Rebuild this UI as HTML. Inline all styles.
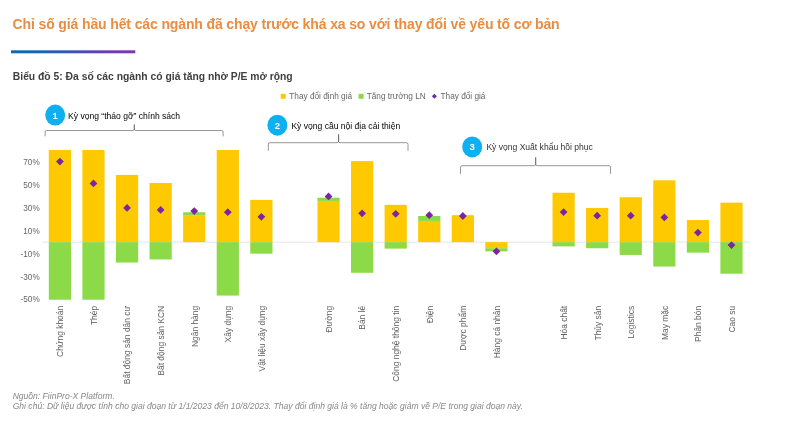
<!DOCTYPE html>
<html lang="vi">
<head>
<meta charset="utf-8">
<title>Biểu đồ 5</title>
<style>
html,body{margin:0;padding:0;background:#fff;}
body{width:787px;height:447px;overflow:hidden;position:relative;font-family:"Liberation Sans",sans-serif;}
#wrap{position:absolute;left:0;top:0;width:787px;height:447px;overflow:hidden;background:#fff;}
#inner{position:absolute;left:0;top:0;width:787px;height:447px;filter:blur(0.55px);}
h1{position:absolute;left:12.6px;top:14.4px;margin:0;font-size:14px;line-height:20px;font-weight:bold;color:#E98D42;white-space:nowrap;letter-spacing:-0.127px;}
h2{position:absolute;left:12.8px;top:69.8px;margin:0;font-size:10.33px;line-height:14px;font-weight:bold;color:#404040;white-space:nowrap;}
svg{position:absolute;left:0;top:0;}
svg text{font-family:"Liberation Sans",sans-serif;}
.ax{font-size:8.2px;fill:#666;}
.xl{font-size:8.45px;fill:#606060;}
.lg{font-size:8.25px;fill:#666;}
.an{font-size:8.55px;}
.num{font-size:9.5px;fill:#fff;font-weight:bold;}
.foot{position:absolute;left:12.7px;margin:0;font-size:8.55px;line-height:11px;font-style:italic;color:#888;white-space:nowrap;}
</style>
</head>
<body>
<div id="wrap"><div id="inner">
<h1>Chỉ số giá hầu hết các ngành đã chạy trước khá xa so với thay đổi về yếu tố cơ bản</h1>
<h2>Biểu đồ 5: Đa số các ngành có giá tăng nhờ P/E mở rộng</h2>
<svg width="787" height="447" viewBox="0 0 787 447">
<defs><linearGradient id="rg" x1="0" y1="0" x2="1" y2="0"><stop offset="0" stop-color="#0F69AC"/><stop offset="0.4" stop-color="#2C5FAE"/><stop offset="0.75" stop-color="#6841AE"/><stop offset="1" stop-color="#8236AC"/></linearGradient></defs>
<rect x="11" y="50.3" width="124.3" height="3.0" fill="url(#rg)"/>
<line x1="42" y1="242.15" x2="750" y2="242.15" stroke="#dedede" stroke-width="0.8"/>
<rect x="48.80" y="150.03" width="22.20" height="92.12" fill="#FFC900"/>
<rect x="48.80" y="242.15" width="22.20" height="57.58" fill="#8CDA47"/>
<rect x="82.38" y="150.03" width="22.20" height="92.12" fill="#FFC900"/>
<rect x="82.38" y="242.15" width="22.20" height="57.58" fill="#8CDA47"/>
<rect x="115.96" y="174.90" width="22.20" height="67.25" fill="#FFC900"/>
<rect x="115.96" y="242.15" width="22.20" height="20.38" fill="#8CDA47"/>
<rect x="149.54" y="182.96" width="22.20" height="59.19" fill="#FFC900"/>
<rect x="149.54" y="242.15" width="22.20" height="17.27" fill="#8CDA47"/>
<rect x="183.12" y="215.67" width="22.20" height="26.48" fill="#FFC900"/>
<rect x="183.12" y="212.21" width="22.20" height="3.45" fill="#8CDA47"/>
<rect x="216.70" y="150.03" width="22.20" height="92.12" fill="#FFC900"/>
<rect x="216.70" y="242.15" width="22.20" height="53.43" fill="#8CDA47"/>
<rect x="250.28" y="199.89" width="22.20" height="42.26" fill="#FFC900"/>
<rect x="250.28" y="242.15" width="22.20" height="11.52" fill="#8CDA47"/>
<rect x="317.44" y="200.93" width="22.20" height="41.22" fill="#FFC900"/>
<rect x="317.44" y="197.70" width="22.20" height="3.22" fill="#8CDA47"/>
<rect x="351.02" y="161.08" width="22.20" height="81.07" fill="#FFC900"/>
<rect x="351.02" y="242.15" width="22.20" height="30.63" fill="#8CDA47"/>
<rect x="384.60" y="204.84" width="22.20" height="37.31" fill="#FFC900"/>
<rect x="384.60" y="242.15" width="22.20" height="6.45" fill="#8CDA47"/>
<rect x="418.18" y="220.96" width="22.20" height="21.19" fill="#FFC900"/>
<rect x="418.18" y="216.01" width="22.20" height="4.95" fill="#8CDA47"/>
<rect x="451.76" y="215.78" width="22.20" height="26.37" fill="#FFC900"/>
<rect x="451.76" y="215.20" width="22.20" height="0.58" fill="#8CDA47"/>
<rect x="485.34" y="242.15" width="22.20" height="6.10" fill="#FFC900"/>
<rect x="485.34" y="248.25" width="22.20" height="3.11" fill="#8CDA47"/>
<rect x="552.50" y="192.75" width="22.20" height="49.40" fill="#FFC900"/>
<rect x="552.50" y="242.15" width="22.20" height="4.26" fill="#8CDA47"/>
<rect x="586.08" y="207.95" width="22.20" height="34.20" fill="#FFC900"/>
<rect x="586.08" y="242.15" width="22.20" height="6.10" fill="#8CDA47"/>
<rect x="619.66" y="197.24" width="22.20" height="44.91" fill="#FFC900"/>
<rect x="619.66" y="242.15" width="22.20" height="12.78" fill="#8CDA47"/>
<rect x="653.24" y="180.31" width="22.20" height="61.84" fill="#FFC900"/>
<rect x="653.24" y="242.15" width="22.20" height="24.41" fill="#8CDA47"/>
<rect x="686.82" y="220.04" width="22.20" height="22.11" fill="#FFC900"/>
<rect x="686.82" y="242.15" width="22.20" height="10.48" fill="#8CDA47"/>
<rect x="720.40" y="202.65" width="22.20" height="39.50" fill="#FFC900"/>
<rect x="720.40" y="242.15" width="22.20" height="31.55" fill="#8CDA47"/>
<path d="M59.90 157.65 L63.80 161.55 L59.90 165.45 L56.00 161.55Z" fill="#7A26A2"/>
<path d="M93.48 179.52 L97.38 183.42 L93.48 187.32 L89.58 183.42Z" fill="#7A26A2"/>
<path d="M127.06 204.05 L130.96 207.95 L127.06 211.85 L123.16 207.95Z" fill="#7A26A2"/>
<path d="M160.64 206.01 L164.54 209.91 L160.64 213.81 L156.74 209.91Z" fill="#7A26A2"/>
<path d="M194.22 207.16 L198.12 211.06 L194.22 214.96 L190.32 211.06Z" fill="#7A26A2"/>
<path d="M227.80 208.31 L231.70 212.21 L227.80 216.11 L223.90 212.21Z" fill="#7A26A2"/>
<path d="M261.38 212.92 L265.28 216.82 L261.38 220.72 L257.48 216.82Z" fill="#7A26A2"/>
<path d="M328.54 192.54 L332.44 196.44 L328.54 200.34 L324.64 196.44Z" fill="#7A26A2"/>
<path d="M362.12 209.46 L366.02 213.36 L362.12 217.26 L358.22 213.36Z" fill="#7A26A2"/>
<path d="M395.70 209.92 L399.60 213.82 L395.70 217.72 L391.80 213.82Z" fill="#7A26A2"/>
<path d="M429.28 211.30 L433.18 215.20 L429.28 219.10 L425.38 215.20Z" fill="#7A26A2"/>
<path d="M462.86 212.11 L466.76 216.01 L462.86 219.91 L458.96 216.01Z" fill="#7A26A2"/>
<path d="M496.44 247.46 L500.34 251.36 L496.44 255.26 L492.54 251.36Z" fill="#7A26A2"/>
<path d="M563.60 208.20 L567.50 212.10 L563.60 216.00 L559.70 212.10Z" fill="#7A26A2"/>
<path d="M597.18 211.77 L601.08 215.67 L597.18 219.57 L593.28 215.67Z" fill="#7A26A2"/>
<path d="M630.76 211.77 L634.66 215.67 L630.76 219.57 L626.86 215.67Z" fill="#7A26A2"/>
<path d="M664.34 213.49 L668.24 217.39 L664.34 221.29 L660.44 217.39Z" fill="#7A26A2"/>
<path d="M697.92 228.69 L701.82 232.59 L697.92 236.49 L694.02 232.59Z" fill="#7A26A2"/>
<path d="M731.50 241.13 L735.40 245.03 L731.50 248.93 L727.60 245.03Z" fill="#7A26A2"/>
<text x="39.7" y="165.05" text-anchor="end" class="ax">70%</text>
<text x="39.7" y="187.94" text-anchor="end" class="ax">50%</text>
<text x="39.7" y="210.84" text-anchor="end" class="ax">30%</text>
<text x="39.7" y="233.73" text-anchor="end" class="ax">10%</text>
<text x="39.7" y="256.63" text-anchor="end" class="ax">-10%</text>
<text x="39.7" y="279.53" text-anchor="end" class="ax">-30%</text>
<text x="39.7" y="302.43" text-anchor="end" class="ax">-50%</text>
<text transform="translate(63.25 305.8) rotate(-90)" text-anchor="end" class="xl">Chứng khoán</text>
<text transform="translate(96.83 305.8) rotate(-90)" text-anchor="end" class="xl">Thép</text>
<text transform="translate(130.41 305.8) rotate(-90)" text-anchor="end" class="xl">Bất động sản dân cư</text>
<text transform="translate(163.99 305.8) rotate(-90)" text-anchor="end" class="xl">Bất động sản KCN</text>
<text transform="translate(197.57 305.8) rotate(-90)" text-anchor="end" class="xl">Ngân hàng</text>
<text transform="translate(231.15 305.8) rotate(-90)" text-anchor="end" class="xl">Xây dựng</text>
<text transform="translate(264.73 305.8) rotate(-90)" text-anchor="end" class="xl">Vật liệu xây dựng</text>
<text transform="translate(331.89 305.8) rotate(-90)" text-anchor="end" class="xl">Đường</text>
<text transform="translate(365.47 305.8) rotate(-90)" text-anchor="end" class="xl">Bán lẻ</text>
<text transform="translate(399.05 305.8) rotate(-90)" text-anchor="end" class="xl">Công nghệ thông tin</text>
<text transform="translate(432.63 305.8) rotate(-90)" text-anchor="end" class="xl">Điện</text>
<text transform="translate(466.21 305.8) rotate(-90)" text-anchor="end" class="xl">Dược phẩm</text>
<text transform="translate(499.79 305.8) rotate(-90)" text-anchor="end" class="xl">Hàng cá nhân</text>
<text transform="translate(566.95 305.8) rotate(-90)" text-anchor="end" class="xl">Hóa chất</text>
<text transform="translate(600.53 305.8) rotate(-90)" text-anchor="end" class="xl">Thủy sản</text>
<text transform="translate(634.11 305.8) rotate(-90)" text-anchor="end" class="xl">Logistics</text>
<text transform="translate(667.69 305.8) rotate(-90)" text-anchor="end" class="xl">May mặc</text>
<text transform="translate(701.27 305.8) rotate(-90)" text-anchor="end" class="xl">Phân bón</text>
<text transform="translate(734.85 305.8) rotate(-90)" text-anchor="end" class="xl">Cao su</text>
<path d="M45.10 136.30 L45.10 132.10 Q45.10 130.50 46.70 130.50 L132.80 130.50 Q134.30 130.50 134.30 129.00 L134.30 124.40 L134.30 129.00 Q134.30 130.50 135.80 130.50 L221.50 130.50 Q223.10 130.50 223.10 132.10 L223.10 136.30" fill="none" stroke="#404040" stroke-width="0.55"/>
<path d="M268.30 150.80 L268.30 144.30 Q268.30 142.70 269.90 142.70 L337.10 142.70 Q338.60 142.70 338.60 141.20 L338.60 134.20 L338.60 141.20 Q338.60 142.70 340.10 142.70 L406.40 142.70 Q408.00 142.70 408.00 144.30 L408.00 150.80" fill="none" stroke="#404040" stroke-width="0.55"/>
<path d="M460.50 173.80 L460.50 167.30 Q460.50 165.70 462.10 165.70 L534.20 165.70 Q535.70 165.70 535.70 164.20 L535.70 157.30 L535.70 164.20 Q535.70 165.70 537.20 165.70 L608.90 165.70 Q610.50 165.70 610.50 167.30 L610.50 173.80" fill="none" stroke="#404040" stroke-width="0.55"/>
<ellipse cx="55.2" cy="115.1" rx="10.0" ry="10.5" fill="#0FB0F0"/>
<text x="55.2" y="118.50" text-anchor="middle" class="num">1</text>
<text x="68.1" y="119.0" class="an" fill="#000">Kỳ vọng “tháo gỡ” chính sách</text>
<ellipse cx="277.4" cy="125.2" rx="10.0" ry="10.5" fill="#0FB0F0"/>
<text x="277.4" y="128.60" text-anchor="middle" class="num">2</text>
<text x="291.4" y="129.0" class="an" fill="#000">Kỳ vọng cầu nội địa cải thiện</text>
<ellipse cx="472.2" cy="146.9" rx="10.0" ry="10.5" fill="#0FB0F0"/>
<text x="472.2" y="150.30" text-anchor="middle" class="num">3</text>
<text x="486.4" y="150.0" class="an" fill="#333">Kỳ vọng Xuất khẩu hồi phục</text>
<rect x="280.7" y="93.8" width="5" height="5" fill="#FFC900"/>
<text x="289.3" y="99.3" class="lg">Thay đổi định giá</text>
<rect x="358.6" y="93.8" width="5" height="5" fill="#8CDA47"/>
<text x="366.7" y="99.3" class="lg">Tăng trưởng LN</text>
<path d="M434.4 93.8 L436.9 96.3 L434.4 98.8 L431.9 96.3Z" fill="#7A26A2"/>
<text x="440.5" y="99.3" class="lg">Thay đổi giá</text>
</svg>
<p class="foot" style="top:390.8px">Nguồn: FiinPro-X Platform.</p>
<p class="foot" style="top:401.3px">Ghi chú: Dữ liệu được tính cho giai đoạn từ 1/1/2023 đến 10/8/2023. Thay đổi định giá là % tăng hoặc giảm về P/E trong giai đoạn này.</p>
</div></div>
</body>
</html>
